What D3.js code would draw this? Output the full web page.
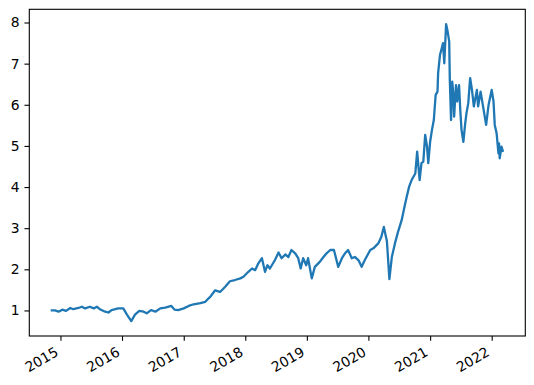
<!DOCTYPE html>
<html>
<head>
<meta charset="utf-8">
<script src="https://cdn.jsdelivr.net/npm/d3@7"></script>
<style>
  body { margin: 0; background: #fff; }
  svg { display: block; font-family: "DejaVu Sans", sans-serif; }
</style>
</head>
<body>
<div id="chart"></div>
<script>
// dates as decimal years
const years = [
    2014.86, 2014.91, 2014.97, 2015.03, 2015.09, 2015.16, 2015.21, 2015.29, 2015.35, 2015.40,
    2015.48, 2015.54, 2015.59, 2015.64, 2015.71, 2015.78, 2015.83, 2015.89, 2015.94, 2016.02,
    2016.08, 2016.15, 2016.21, 2016.28, 2016.35, 2016.40, 2016.47, 2016.54, 2016.62, 2016.70,
    2016.80, 2016.85, 2016.91, 2017.00, 2017.08, 2017.16, 2017.27, 2017.35, 2017.40, 2017.43,
    2017.51, 2017.59, 2017.67, 2017.75, 2017.83, 2017.92, 2017.97, 2018.05, 2018.11, 2018.16,
    2018.21, 2018.27, 2018.32, 2018.36, 2018.40, 2018.48, 2018.54, 2018.59, 2018.65, 2018.70,
    2018.75, 2018.81, 2018.86, 2018.90, 2018.94, 2018.99, 2019.02, 2019.08, 2019.13, 2019.21,
    2019.27, 2019.32, 2019.38, 2019.44, 2019.51, 2019.57, 2019.62, 2019.67, 2019.73, 2019.78,
    2019.84, 2019.89, 2019.94, 2020.03, 2020.08, 2020.16, 2020.21, 2020.25, 2020.30, 2020.34,
    2020.38, 2020.43, 2020.48, 2020.54, 2020.59, 2020.62, 2020.66, 2020.70, 2020.76, 2020.79,
    2020.83, 2020.86, 2020.89, 2020.92, 2020.95, 2020.97, 2021.00, 2021.03, 2021.06, 2021.09,
    2021.12, 2021.13, 2021.16, 2021.19, 2021.21, 2021.23, 2021.26, 2021.28, 2021.31, 2021.32,
    2021.34, 2021.36, 2021.38, 2021.39, 2021.42, 2021.44, 2021.47, 2021.49, 2021.51, 2021.54,
    2021.57, 2021.59, 2021.62, 2021.65, 2021.68, 2021.71, 2021.76, 2021.78, 2021.82, 2021.86,
    2021.91, 2021.95, 2022.00, 2022.03, 2022.05, 2022.08, 2022.11, 2022.12, 2022.13, 2022.16,
    2022.18
];

const values = [
    1.00, 1.00, 0.97, 1.02, 0.99, 1.06, 1.03, 1.06, 1.09, 1.05,
    1.09, 1.05, 1.09, 1.03, 0.98, 0.95, 1.01, 1.03, 1.05, 1.05,
    0.90, 0.74, 0.90, 0.99, 0.97, 0.93, 1.01, 0.97, 1.05, 1.07,
    1.11, 1.02, 1.01, 1.05, 1.11, 1.15, 1.18, 1.21, 1.29, 1.33,
    1.49, 1.45, 1.57, 1.71, 1.74, 1.78, 1.82, 1.94, 2.02, 1.98,
    2.14, 2.27, 1.94, 2.10, 2.02, 2.22, 2.41, 2.27, 2.36, 2.30,
    2.47, 2.39, 2.27, 2.02, 2.27, 2.10, 2.27, 1.78, 2.06, 2.18,
    2.30, 2.39, 2.47, 2.47, 2.06, 2.27, 2.39, 2.47, 2.27, 2.30,
    2.22, 2.06, 2.22, 2.47, 2.51, 2.63, 2.79, 3.03, 2.68, 1.76,
    2.30, 2.63, 2.91, 3.20, 3.56, 3.76, 4.01, 4.17, 4.33, 4.86,
    4.17, 4.58, 4.62, 5.27, 4.98, 4.58, 5.10, 5.39, 5.63, 6.24,
    6.32, 6.77, 7.21, 7.38, 7.50, 7.01, 7.96, 7.82, 7.54, 6.60,
    5.63, 6.56, 6.20, 5.71, 6.48, 6.08, 6.48, 5.87, 5.39, 5.10,
    5.55, 5.79, 6.04, 6.65, 6.36, 5.96, 6.36, 5.96, 6.32, 5.96,
    5.51, 6.00, 6.36, 6.08, 5.51, 5.31, 4.82, 5.06, 4.70, 4.98,
    4.88
];

const yTicks = [1, 2, 3, 4, 5, 6, 7, 8];
const xTickYears = [2015, 2016, 2017, 2018, 2019, 2020, 2021, 2022];

const blue = '#1f77b4';
const fontSize = 13.9;
const tickLen = 4.86;
const tickPad = 4.86;

const yearToDate = y => {
    const whole = Math.floor(y);
    const start = new Date(whole, 0, 1).getTime();
    const end = new Date(whole + 1, 0, 1).getTime();
    return new Date(start + (y - whole) * (end - start));
};

const data = years.map((y, i) => ({ date: yearToDate(y), close: values[i] }));

const lineChart = data => {
    const margin = { top: 9.3, right: 8.7, bottom: 49, left: 29.3 };
    const width = 534 - margin.left - margin.right;
    const height = 385 - margin.top - margin.bottom;

    // data range plus matplotlib-style 5% margins
    const xExt = d3.extent(data, d => d.date.getTime());
    const yExt = d3.extent(data, d => d.close);
    const xPad = (xExt[1] - xExt[0]) * 0.05;
    const yPad = (yExt[1] - yExt[0]) * 0.05;

    const xScale = d3
        .scaleTime()
        .domain([new Date(xExt[0] - xPad), new Date(xExt[1] + xPad)])
        .range([0, width]);

    const yScale = d3
        .scaleLinear()
        .domain([yExt[0] - yPad, yExt[1] + yPad])
        .range([height, 0]);

    const svg = d3
        .select('#chart')
        .append('svg')
        .attr('width', 534)
        .attr('height', 385)
        .append('g')
        .attr('transform', `translate(${margin.left}, ${margin.top})`);

    // x axis, labels rotated like autofmt_xdate
    const xAxis = svg
        .append('g')
        .attr('transform', `translate(0, ${height})`)
        .call(d3.axisBottom(xScale)
            .tickValues(xTickYears.map(y => new Date(y, 0, 1)))
            .tickFormat(d3.timeFormat('%Y'))
            .tickSize(tickLen)
            .tickPadding(0));
    xAxis.select('.domain').remove();
    xAxis.selectAll('line').attr('stroke', '#000').attr('stroke-width', 1.1);
    xAxis.selectAll('text')
        .attr('font-size', fontSize)
        .attr('font-family', 'DejaVu Sans')
        .attr('fill', '#000')
        .attr('text-anchor', 'end')
        .attr('dy', null)
        .attr('y', null)
        .attr('transform', `translate(${-0.5 * 0.24 * fontSize}, ${tickLen + tickPad + 0.866 * 0.76 * fontSize}) rotate(-30)`);

    const yAxis = svg
        .append('g')
        .call(d3.axisLeft(yScale)
            .tickValues(yTicks)
            .tickFormat(d3.format('d'))
            .tickSize(tickLen)
            .tickPadding(tickPad));
    yAxis.select('.domain').remove();
    yAxis.selectAll('line').attr('stroke', '#000').attr('stroke-width', 1.1);
    yAxis.selectAll('text')
        .attr('font-size', fontSize)
        .attr('font-family', 'DejaVu Sans')
        .attr('fill', '#000');

    // price line
    const line = d3
        .line()
        .x(d => xScale(d.date))
        .y(d => yScale(d.close));

    svg
        .append('path')
        .datum(data)
        .style('fill', 'none')
        .attr('stroke', blue)
        .attr('stroke-width', 2.3)
        .attr('stroke-linejoin', 'round')
        .attr('stroke-linecap', 'square')
        .attr('d', line);

    // frame
    svg
        .append('rect')
        .attr('width', width)
        .attr('height', height)
        .attr('fill', 'none')
        .attr('stroke', '#000')
        .attr('stroke-width', 1.1);
};

lineChart(data);
</script>
</body>
</html>
